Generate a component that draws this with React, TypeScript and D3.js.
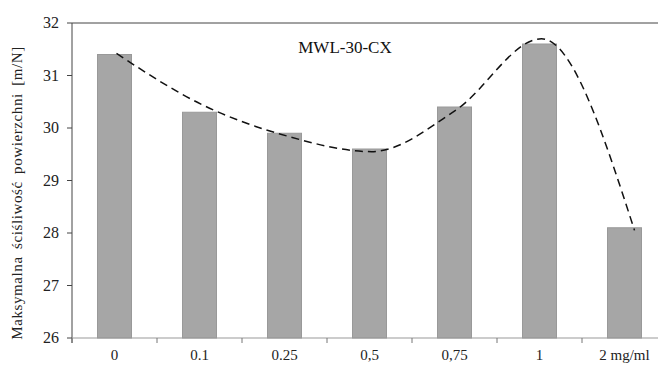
import React from "react";
import * as d3 from "d3";

// concentrations
const categories = ["0", "0.1", "0.25", "0,5", "0,75", "1", "2 mg/ml"];
// bar heights, max. surface compressibility [m/N]
const values = [31.4, 30.3, 29.9, 29.6, 30.4, 31.6, 28.1];
// dashed smoothed line
const curveValues = [31.42, 30.45, 29.85, 29.55, 30.35, 31.7, 28.05];
const yTicks = [26, 27, 28, 29, 30, 31, 32];

const W = 658;
const H = 365;
const left = 72;
const top = 23;
const bottom = 338;
const serif = "'Liberation Serif', 'Times New Roman', serif";

export default function App() {
  const x = d3
    .scaleBand()
    .domain(categories)
    .range([left, left + 85 * 7])
    .paddingInner(0.6)
    .paddingOuter(0.3);
  const y = d3.scaleLinear().domain([26, 32]).range([bottom, top]);

  const line = d3
    .line<number>()
    .x((d, i) => (x(categories[i]) as number) + x.bandwidth() / 2 + (i === categories.length - 1 ? 10 : 2))
    .y((d) => y(d))
    .curve(d3.curveMonotoneX);

  const step = x.step();

  return (
    <svg
      width={W}
      height={H}
      style={{ position: "absolute", left: 0, top: 0, background: "#fff", fontFamily: serif }}
    >
      {/* top border */}
      <line x1={left} x2={W} y1={top} y2={top} stroke="#444" strokeWidth={1} />

      {values.map((v, i) => (
        <rect
          key={i}
          x={x(categories[i])}
          y={y(v)}
          width={x.bandwidth()}
          height={bottom - y(v)}
          fill="#a6a6a6"
          stroke="#999"
          strokeWidth={1}
        />
      ))}

      {/* y axis */}
      <line x1={left} x2={left} y1={top} y2={bottom + 5} stroke="#444" />
      {yTicks.map((t) => (
        <g key={t}>
          <line x1={left - 5} x2={left} y1={y(t)} y2={y(t)} stroke="#444" />
          <text x={left - 13} y={y(t) + 5} textAnchor="end" fontSize={16} fill="#222">
            {t}
          </text>
        </g>
      ))}

      {/* x axis */}
      <line x1={left} x2={W} y1={bottom} y2={bottom} stroke="#999" />
      {categories.map((c, i) => (
        <g key={c}>
          <line x1={left + step * i} x2={left + step * i} y1={bottom} y2={bottom + 5} stroke="#777" />
          <text
            x={(x(c) as number) + x.bandwidth() / 2}
            y={bottom + 22}
            textAnchor="middle"
            fontSize={15}
            fill="#222"
          >
            {c}
          </text>
        </g>
      ))}

      <path
        d={line(curveValues) || ""}
        fill="none"
        stroke="#111"
        strokeWidth={1.5}
        strokeDasharray="8,5"
      />

      <text x={345} y={53} textAnchor="middle" fontSize={17} fill="#111">
        MWL-30-CX
      </text>

      <text
        transform={`translate(22,193) rotate(-90)`}
        textAnchor="middle"
        fontSize={15}
        fill="#222"
        letterSpacing={0.6}
        wordSpacing={3}
      >
        Maksymalna ściśliwość powierzchni [m/N]
      </text>
    </svg>
  );
}
